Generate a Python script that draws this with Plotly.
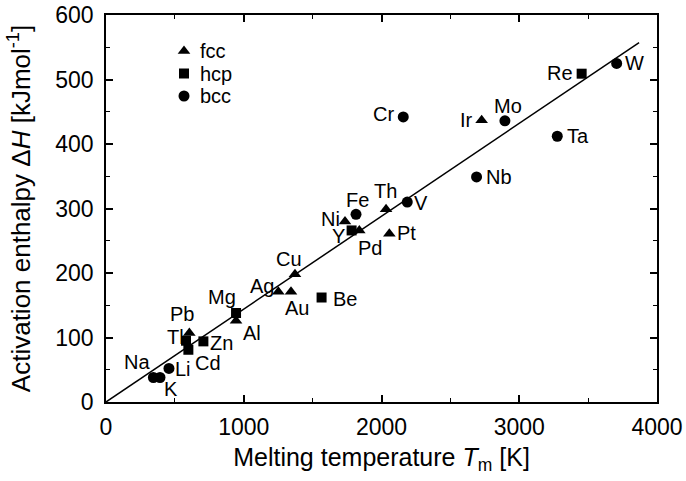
import plotly.graph_objects as go

# ---- data ----
elements = ["W", "Re", "Cr", "Ir", "Mo", "Ta", "Nb", "V", "Th", "Fe", "Pt", "Ni", "Y", "Pd",
            "Cu", "Ag", "Au", "Be", "Mg", "Al", "Pb", "Tl", "Zn", "Cd", "Li", "Na", "K"]
melting_T = [3707, 3453, 2158, 2727, 2896, 3276, 2690, 2187, 2033, 1815, 2057, 1735, 1783, 1839,
             1372, 1251, 1343, 1565, 944, 944, 605, 581, 707, 598, 457, 344, 392]
act_H = [525, 509, 442, 437, 436, 412, 349, 310, 299, 291, 261, 280, 266, 266,
         198, 171, 171, 162, 138, 126, 107, 95, 94, 81, 52, 38, 38]
structure = ["bcc", "hcp", "bcc", "fcc", "bcc", "bcc", "bcc", "bcc", "fcc", "bcc", "fcc", "fcc", "hcp", "fcc",
             "fcc", "fcc", "fcc", "hcp", "hcp", "fcc", "fcc", "hcp", "hcp", "hcp", "bcc", "bcc", "bcc"]
fit_slope = 0.144          # kJ/mol per K
fit_T = [0, 3870]
fit_H = [fit_slope * t for t in fit_T]

groups = ["fcc", "hcp", "bcc"]

# ---- styling ----
symbols = {"fcc": "triangle-up", "hcp": "square", "bcc": "circle"}
msize = {"fcc": 11, "hcp": 10, "bcc": 11}
label_offsets = {  # pixel offsets of labels from their points (x right, y down)
    "W": (18, 0), "Re": (-22, -1), "Cr": (-20, -3), "Ir": (-15, 0), "Mo": (3, -15),
    "Ta": (21, 0), "Nb": (22, 0), "V": (14, 1), "Th": (-1, -18), "Fe": (1, -14),
    "Pt": (17, -1), "Ni": (-15, -2), "Y": (-13, 6), "Pd": (11, 18), "Cu": (-6, -15),
    "Ag": (-16, -6), "Au": (6, 16), "Be": (23, 1), "Mg": (-14, -16), "Al": (16, 12),
    "Pb": (-7, -19), "Tl": (-11, -4), "Zn": (18, 2), "Cd": (20, 13), "Li": (14, 1),
    "Na": (-16, -15), "K": (11, 12),
}
FONT = "Liberation Sans, Arial, Helvetica, sans-serif"
PLOT_W, PLOT_H = 551, 387          # plot area in pixels

fig = go.Figure()
fig.add_trace(go.Scatter(x=fit_T, y=fit_H, mode="lines",
                         line=dict(color="black", width=1.5), showlegend=False,
                         hoverinfo="skip"))
for g in groups:
    xs = [t for t, s in zip(melting_T, structure) if s == g]
    ys = [h for h, s in zip(act_H, structure) if s == g]
    fig.add_trace(go.Scatter(x=xs, y=ys, mode="markers", name=g, showlegend=False,
                             marker=dict(symbol=symbols[g], size=msize[g], color="black",
                                         line=dict(width=0))))

for el, t, h in zip(elements, melting_T, act_H):
    dx, dy = label_offsets[el]
    fig.add_annotation(x=t, y=h, text=el, showarrow=False, xshift=dx, yshift=-dy,
                       font=dict(size=20, color="black", family=FONT))

# ---- hand-made legend on an overlay axis measured in plot pixels ----
leg_x, leg_y0, leg_step = 78, 36, 22.5
for i, g in enumerate(groups):
    yy = leg_y0 + i * leg_step
    fig.add_trace(go.Scatter(x=[leg_x], y=[yy], xaxis="x2", yaxis="y2", mode="markers",
                             showlegend=False, hoverinfo="skip",
                             marker=dict(symbol=symbols[g], size=msize[g], color="black",
                                         line=dict(width=0))))
    fig.add_annotation(x=leg_x + 14, y=yy, xref="x2", yref="y2", text=g, showarrow=False,
                       xanchor="left", yanchor="middle",
                       font=dict(size=20, color="black", family=FONT))

axis_common = dict(showline=True, linecolor="black", linewidth=1.5, mirror="ticks",
                   ticks="inside", ticklen=7, tickwidth=1.5, tickcolor="black",
                   showgrid=False, zeroline=False, automargin=False,
                   ticklabeloverflow="allow",
                   tickfont=dict(size=23, color="black", family=FONT))

fig.update_xaxes(range=[0, 4000], dtick=1000, tick0=0, ticklabelstandoff=4,
                 minor=dict(ticks="inside", ticklen=4, dtick=500, tickcolor="black", tickwidth=1.2),
                 title=dict(text="Melting temperature <i>T</i><sub>m</sub> [K]",
                            font=dict(size=25, color="black", family=FONT), standoff=9),
                 **axis_common)
fig.update_yaxes(range=[0, 600], dtick=100, tick0=0, ticklabelstandoff=6,
                 minor=dict(ticks="inside", ticklen=4, dtick=50, tickcolor="black", tickwidth=1.2),
                 title=dict(text="Activation enthalpy Δ<i>H</i> [kJmol<sup>-1</sup>]",
                            font=dict(size=26, color="black", family=FONT), standoff=17),
                 **axis_common)

fig.update_layout(
    width=686, height=481,
    margin=dict(l=106, r=686 - 106 - PLOT_W, t=15, b=481 - 15 - PLOT_H, pad=0),
    plot_bgcolor="white", paper_bgcolor="white",
    font=dict(family=FONT, color="black"),
    showlegend=False,
    xaxis2=dict(overlaying="x", range=[0, PLOT_W], visible=False, fixedrange=True),
    yaxis2=dict(overlaying="y", range=[PLOT_H, 0], visible=False, fixedrange=True),
)

fig.write_html("out.html", config={"displayModeBar": False},
               post_script="document.body.style.margin='0';document.body.style.overflow='hidden';")
